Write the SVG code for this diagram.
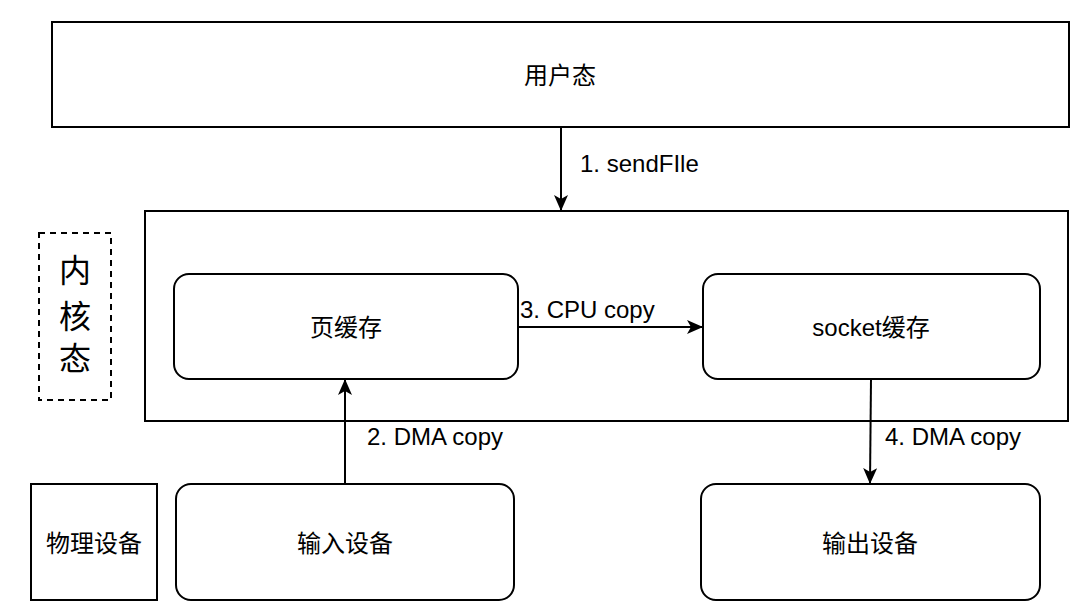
<svg xmlns="http://www.w3.org/2000/svg" width="1088" height="612" viewBox="0 0 1088 612">
<defs>
<style>
.box{fill:#fff;stroke:#000;stroke-width:2}
.t{font-family:"Liberation Sans","Noto Sans CJK SC",sans-serif;font-size:24px;fill:#000;text-anchor:middle;dominant-baseline:central}
.l{font-family:"Liberation Sans","Noto Sans CJK SC",sans-serif;font-size:24px;fill:#000}
.c{stroke:#000;stroke-width:2;fill:none;marker-end:url(#ah)}
</style>
<marker id="ah" viewBox="0 0 16 14" refX="15" refY="7" markerWidth="16" markerHeight="14" orient="auto" markerUnits="userSpaceOnUse">
<path d="M0,0 L16,7 L0,14 L4,7 z" fill="#000"/>
</marker>
</defs>
<rect width="1088" height="612" fill="#fff"/>
<g id="user">
<rect class="box" x="52" y="22" width="1017" height="105"/>
<text class="t" x="560" y="75">用户态</text>
</g>
<g id="kernel">
<rect class="box" x="145" y="211" width="923" height="210"/>
</g>
<g id="kernel-label">
<rect x="39" y="233" width="72" height="167" fill="none" stroke="#000" stroke-width="2" stroke-dasharray="6,5"/>
<text class="t" x="75" y="271" style="font-size:32px">内</text>
<text class="t" x="75" y="317" style="font-size:32px">核</text>
<text class="t" x="75" y="359" style="font-size:32px">态</text>
</g>
<g id="pagecache">
<rect class="box" x="174" y="274" width="344" height="105" rx="15"/>
<text class="t" x="346" y="327">页缓存</text>
</g>
<g id="socketcache">
<rect class="box" x="703" y="274" width="337" height="105" rx="15"/>
<text class="t" x="871" y="327">socket缓存</text>
</g>
<g id="physical">
<rect class="box" x="31" y="484" width="126" height="116"/>
<text class="t" x="94" y="543">物理设备</text>
</g>
<g id="input">
<rect class="box" x="176" y="484" width="338" height="116" rx="15"/>
<text class="t" x="345" y="543">输入设备</text>
</g>
<g id="output">
<rect class="box" x="701" y="484" width="339" height="116" rx="15"/>
<text class="t" x="870" y="543">输出设备</text>
</g>
<g id="connectors">
<line class="c" x1="561" y1="127" x2="561" y2="210"/>
<text class="l" x="580" y="172">1. sendFIle</text>
<line class="c" x1="345" y1="484" x2="345" y2="380"/>
<text class="l" x="367" y="445">2. DMA copy</text>
<line class="c" x1="518" y1="327" x2="702" y2="327"/>
<text class="l" x="520" y="318">3. CPU copy</text>
<line class="c" x1="871" y1="379" x2="870" y2="483"/>
<text class="l" x="885" y="445">4. DMA copy</text>
</g>
</svg>
